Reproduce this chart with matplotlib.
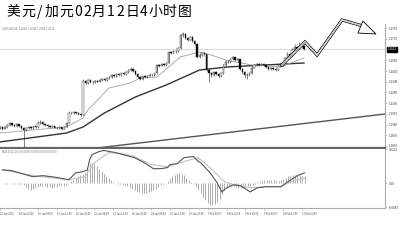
import matplotlib.pyplot as plt
from matplotlib.patches import Polygon
from matplotlib.transforms import blended_transform_factory

plt.rcParams['font.family'] = ['Noto Sans CJK SC', 'DejaVu Sans']

title = "美元/加元02月12日4小时图"
header = "USDCAD,H4  1.2640 1.2648 1.2604 1.2612"
macd_header = "MACD(12,26,9) 0.0036 0.0024 0.0024 0.0000"

# 4h candles, bar 0 = 13 Jan 12:00
first_open = 1.1942
closes = [1.1950, 1.1958, 1.1946, 1.1962, 1.1975, 1.1990, 1.1978, 1.1968, 1.1982, 1.1970,
          1.1955, 1.1935, 1.1948, 1.1960, 1.1952, 1.1965, 1.1958, 1.1990, 1.2005, 1.1985,
          1.1978, 1.1970, 1.1962, 1.1968, 1.1955, 1.1950, 1.1958, 1.1945, 1.1962, 1.1995,
          1.2080, 1.2075, 1.2085, 1.2078, 1.2070, 1.2062, 1.2345, 1.2330, 1.2355, 1.2340,
          1.2335, 1.2350, 1.2342, 1.2358, 1.2365, 1.2352, 1.2370, 1.2380, 1.2395, 1.2388,
          1.2402, 1.2396, 1.2410, 1.2405, 1.2420, 1.2440, 1.2450, 1.2430, 1.2405, 1.2380,
          1.2365, 1.2385, 1.2378, 1.2392, 1.2400, 1.2395, 1.2410, 1.2480, 1.2475, 1.2490,
          1.2482, 1.2500, 1.2590, 1.2585, 1.2600, 1.2595, 1.2620, 1.2730, 1.2745, 1.2710,
          1.2695, 1.2715, 1.2680, 1.2660, 1.2550, 1.2565, 1.2580, 1.2570, 1.2440, 1.2415,
          1.2395, 1.2420, 1.2405, 1.2385, 1.2410, 1.2480, 1.2510, 1.2505, 1.2530, 1.2545,
          1.2520, 1.2530, 1.2450, 1.2420, 1.2400, 1.2395, 1.2410, 1.2460, 1.2478, 1.2490,
          1.2485, 1.2492, 1.2480, 1.2465, 1.2450, 1.2458, 1.2445, 1.2440, 1.2470, 1.2490,
          1.2485, 1.2540, 1.2575, 1.2560, 1.2610, 1.2630, 1.2618, 1.2645, 1.2640, 1.2612]
highs = [1.1962, 1.1966, 1.1964, 1.1970, 1.1985, 1.2000, 1.1995, 1.1984, 1.1990, 1.1988,
         1.1976, 1.1962, 1.1956, 1.1968, 1.1966, 1.1972, 1.1970, 1.2008, 1.2020, 1.2010,
         1.1992, 1.1985, 1.1976, 1.1975, 1.1972, 1.1962, 1.1965, 1.1962, 1.1970, 1.2005,
         1.2092, 1.2090, 1.2094, 1.2090, 1.2084, 1.2076, 1.2360, 1.2356, 1.2364, 1.2362,
         1.2350, 1.2358, 1.2356, 1.2366, 1.2374, 1.2370, 1.2378, 1.2390, 1.2404, 1.2402,
         1.2410, 1.2412, 1.2418, 1.2420, 1.2430, 1.2450, 1.2462, 1.2458, 1.2436, 1.2412,
         1.2388, 1.2392, 1.2394, 1.2400, 1.2410, 1.2408, 1.2418, 1.2490, 1.2488, 1.2498,
         1.2496, 1.2510, 1.2602, 1.2600, 1.2610, 1.2608, 1.2632, 1.2745, 1.2762, 1.2752,
         1.2720, 1.2728, 1.2722, 1.2690, 1.2665, 1.2578, 1.2592, 1.2590, 1.2576, 1.2450,
         1.2425, 1.2430, 1.2428, 1.2412, 1.2420, 1.2490, 1.2522, 1.2520, 1.2540, 1.2556,
         1.2552, 1.2540, 1.2535, 1.2458, 1.2428, 1.2410, 1.2420, 1.2470, 1.2488, 1.2500,
         1.2498, 1.2502, 1.2498, 1.2486, 1.2472, 1.2466, 1.2464, 1.2452, 1.2478, 1.2498,
         1.2500, 1.2550, 1.2588, 1.2585, 1.2622, 1.2660, 1.2640, 1.2672, 1.2655, 1.2648]
lows = [1.1935, 1.1944, 1.1938, 1.1940, 1.1955, 1.1968, 1.1970, 1.1960, 1.1962, 1.1962,
        1.1945, 1.1792, 1.1925, 1.1940, 1.1944, 1.1946, 1.1950, 1.1954, 1.1985, 1.1978,
        1.1970, 1.1962, 1.1955, 1.1956, 1.1948, 1.1942, 1.1944, 1.1938, 1.1940, 1.1958,
        1.1990, 1.2066, 1.2068, 1.2070, 1.2062, 1.2055, 1.2058, 1.2318, 1.2322, 1.2332,
        1.2325, 1.2328, 1.2334, 1.2336, 1.2350, 1.2344, 1.2346, 1.2364, 1.2374, 1.2380,
        1.2382, 1.2388, 1.2390, 1.2398, 1.2400, 1.2414, 1.2432, 1.2422, 1.2396, 1.2370,
        1.2352, 1.2358, 1.2370, 1.2372, 1.2386, 1.2388, 1.2390, 1.2405, 1.2466, 1.2470,
        1.2474, 1.2476, 1.2495, 1.2576, 1.2578, 1.2586, 1.2590, 1.2615, 1.2720, 1.2700,
        1.2685, 1.2688, 1.2672, 1.2650, 1.2540, 1.2542, 1.2558, 1.2560, 1.2430, 1.2335,
        1.2380, 1.2388, 1.2396, 1.2372, 1.2380, 1.2405, 1.2474, 1.2496, 1.2500, 1.2522,
        1.2512, 1.2510, 1.2440, 1.2408, 1.2370, 1.2365, 1.2385, 1.2405, 1.2452, 1.2470,
        1.2476, 1.2478, 1.2472, 1.2456, 1.2440, 1.2442, 1.2436, 1.2430, 1.2435, 1.2464,
        1.2476, 1.2480, 1.2534, 1.2550, 1.2555, 1.2602, 1.2608, 1.2612, 1.2628, 1.2604]

fast_ma_bars = [1, 29, 36, 38, 47, 56, 60, 67, 77, 85, 90, 96, 107, 119, 129]
fast_ma = [1.1909, 1.1960, 1.2036, 1.2103, 1.2288, 1.2330, 1.2372, 1.2380, 1.2549,
           1.2591, 1.2565, 1.2523, 1.2481, 1.2465, 1.2540]
slow_ma_bars = [1, 29, 36, 45, 58, 71, 85, 97, 129]
slow_ma = [1.1834, 1.1909, 1.1960, 1.2078, 1.2212, 1.2313, 1.2439, 1.2465, 1.2498]

trend_bars = [41.8, 163.1]
trend_prices = [1.1783, 1.2069]

arrow_bars = [119.7, 129.4, 134.5, 145.0, 153.8]
arrow_prices = [1.2481, 1.2675, 1.2565, 1.2860, 1.2809]
head_bars = [153.8, 159.3, 151.7]
head_prices = [1.2851, 1.2742, 1.2750]

price_ticks = [1.2790, 1.2700, 1.2520, 1.2430, 1.2340, 1.2250, 1.2160, 1.2070, 1.1980, 1.1890, 1.1800]

macd_bars = [1, 5, 11, 14, 18, 22, 25, 29, 30, 32, 35, 37, 38, 39, 42, 44, 49, 52, 57, 61, 65,
             68, 71, 72, 75, 78, 82, 84, 85, 89, 92, 94, 96, 99, 102, 106, 109, 113, 119, 122,
             126, 129]
macd_vals = [0.0048, 0.0045, 0.0030, 0.0023, 0.0027, 0.0023, 0.0019, 0.0012, 0.0019, 0.0037,
             0.0041, 0.0048, 0.0085, 0.0103, 0.0114, 0.0118, 0.0110, 0.0103, 0.0092, 0.0074,
             0.0052, 0.0052, 0.0056, 0.0067, 0.0070, 0.0092, 0.0096, 0.0078, 0.0074, 0.0037,
             0.0001, -0.0032, -0.0017, -0.0006, -0.0010, -0.0032, -0.0017, -0.0013, -0.0013,
             0.0005, 0.0027, 0.0037]
signal_bars = [1, 14, 29, 36, 40, 46, 52, 57, 64, 71, 78, 84, 90, 95, 99, 106, 113, 119, 122, 129]
signal_vals = [0.0048, 0.0027, 0.0012, 0.0023, 0.0074, 0.0110, 0.0107, 0.0096, 0.0067, 0.0059,
               0.0078, 0.0092, 0.0048, 0.0005, -0.0006, -0.0017, -0.0013, -0.0013, 0.0001, 0.0019]
# histogram in units of 0.0001
hist = [-1, -1, -2, -2, -1, -2, -3, -3, -4, -5,
        -8, -14, -20, -24, -22, -18, -14, -12, -10, -12,
        -14, -15, -16, -15, -13, -12, -10, -9, -6, -2,
        6, 12, 20, 26, 30, 34, 40, 58, 72, 74,
        68, 60, 50, 42, 34, 26, 18, 10, 4, 0,
        -2, -4, -6, -8, -12, -16, -20, -24, -28, -32,
        -34, -35, -35, -33, -30, -26, -20, -14, -8, -3,
        2, 8, 16, 24, 30, 35, 37, 34, 28, 20,
        12, 4, -4, -14, -24, -36, -50, -62, -72, -78,
        -79, -76, -68, -56, -40, -26, -16, -12, -10, -12,
        -14, -16, -17, -16, -14, -12, -10, -6, -2, 3,
        6, 8, 10, 11, 12, 12, 10, 8, 8, 12,
        16, 20, 24, 27, 30, 30, 29, 28, 27, 26]

date_labels = ["13 Jan 2015", "14 Jan 20:00", "16 Jan 04:00", "19 Jan 12:00", "20 Jan 20:00",
               "22 Jan 04:00", "23 Jan 12:00", "26 Jan 20:00", "28 Jan 04:00", "29 Jan 12:00",
               "30 Jan 20:00", "3 Feb 04:00", "4 Feb 12:00", "5 Feb 20:00", "9 Feb 04:00",
               "10 Feb 12:00", "11 Feb 20:00"]

bars = list(range(len(closes)))
opens = [first_open] + closes[:-1]

fig = plt.figure(figsize=(4, 2.48), dpi=100)
ax = fig.add_axes([0, 1 - 148 / 248, 385 / 400, 124 / 248])
ax2 = fig.add_axes([0, 1 - 208 / 248, 385 / 400, 59.5 / 248])

# price panel
ax.axhline(closes[-1], color="#dcdcdc", lw=0.8, zorder=1)
ax.plot(trend_bars, trend_prices, color="#555555", lw=1.0, zorder=2)
ax.plot(slow_ma_bars, slow_ma, color="#333333", lw=1.0, zorder=2)
ax.plot(fast_ma_bars, fast_ma, color="#a0a0a0", lw=0.6, zorder=2)
ax.vlines(bars, lows, highs, color="#222222", lw=0.4, zorder=3)
bodies = [max(abs(c - o), 0.0002) for o, c in zip(opens, closes)]
bottoms = [min(o, c) for o, c in zip(opens, closes)]
colors = ["white" if c >= o else "black" for o, c in zip(opens, closes)]
ax.bar(bars, bodies, bottom=bottoms, width=0.55, color=colors, edgecolor="#222222",
       linewidth=0.3, zorder=4)

# hand-drawn forecast arrow
ax.plot(arrow_bars, arrow_prices, color="black", lw=2.2, clip_on=False, zorder=5,
        solid_joinstyle="miter")
ax.plot(arrow_bars, arrow_prices, color="white", lw=1.2, clip_on=False, zorder=6,
        solid_joinstyle="miter")
ax.plot(arrow_bars, arrow_prices, color="#777777", lw=0.6, ls=(0, (1, 1)), clip_on=False, zorder=7)
ax.add_patch(Polygon(list(zip(head_bars, head_prices)), closed=True, facecolor="white",
                     edgecolor="black", lw=0.6, clip_on=False, zorder=8))

ax.set_xlim(1.0, 163.1)
ax.set_ylim(1.1783, 1.2826)
ax.set_xticks([])
ax.yaxis.tick_right()
ax.set_yticks(price_ticks)
ax.set_yticklabels([f"{p:.4f}" for p in price_ticks])
ax.tick_params(axis="y", labelsize=2.2, length=1.5, width=0.4, pad=1,
               color="#999999", labelcolor="#333333")
for s in ["top", "left"]:
    ax.spines[s].set_visible(False)
ax.spines["right"].set_color("#aaaaaa")
ax.spines["right"].set_linewidth(0.8)
ax.spines["bottom"].set_color("#666666")
ax.spines["bottom"].set_linewidth(1.6)

tr = blended_transform_factory(ax.transAxes, ax.transData)
ax.text(1.006, closes[-1], f"{closes[-1]:.4f}", transform=tr, fontsize=2.2, color="white",
        va="center", ha="left", bbox=dict(boxstyle="square,pad=0.25", fc="black", ec="black"),
        clip_on=False)

# MACD panel
ax2.vlines(bars, 0, [h * 0.0001 for h in hist], color="#8a8a8a", lw=0.5)
ax2.plot(signal_bars, signal_vals, color="#c0c0c0", lw=0.8)
ax2.plot(macd_bars, macd_vals, color="#555555", lw=0.8)
ax2.set_xlim(1.0, 163.1)
ax2.set_ylim(-0.0090, 0.0125)
ax2.yaxis.tick_right()
ax2.set_yticks([0.0122, 0.0, -0.0087])
ax2.set_yticklabels(["0.0122", "0.00", "-0.0087"])
ax2.tick_params(axis="y", labelsize=2.2, length=1.5, width=0.4, pad=1,
                color="#999999", labelcolor="#333333")
ax2.set_xticks(bars[::8])
ax2.set_xticklabels(date_labels, ha="left")
ax2.tick_params(axis="x", labelsize=1.8, length=1.2, width=0.4, pad=1.5,
                color="#999999", labelcolor="#444444")
for s in ["top", "left"]:
    ax2.spines[s].set_visible(False)
for s in ["right", "bottom"]:
    ax2.spines[s].set_color("#aaaaaa")
    ax2.spines[s].set_linewidth(0.8)

fig.text(2 / 400, 1 - 28 / 248, header, fontsize=2.0, color="#777777", va="center")
fig.text(2 / 400, 1 - 151 / 248, macd_header, fontsize=2.0, color="#777777", va="center")

# title, one character at a time for the wide spacing
x = 6
for ch in title:
    wide = ord(ch) > 255
    adv = 14.5 if wide else 9.25
    fig.text((x + adv / 2) / 400, 1 - 12 / 248, ch, fontsize=10, color="black",
             ha="center", va="center")
    x += adv

fig.savefig("out.png", dpi=100)
